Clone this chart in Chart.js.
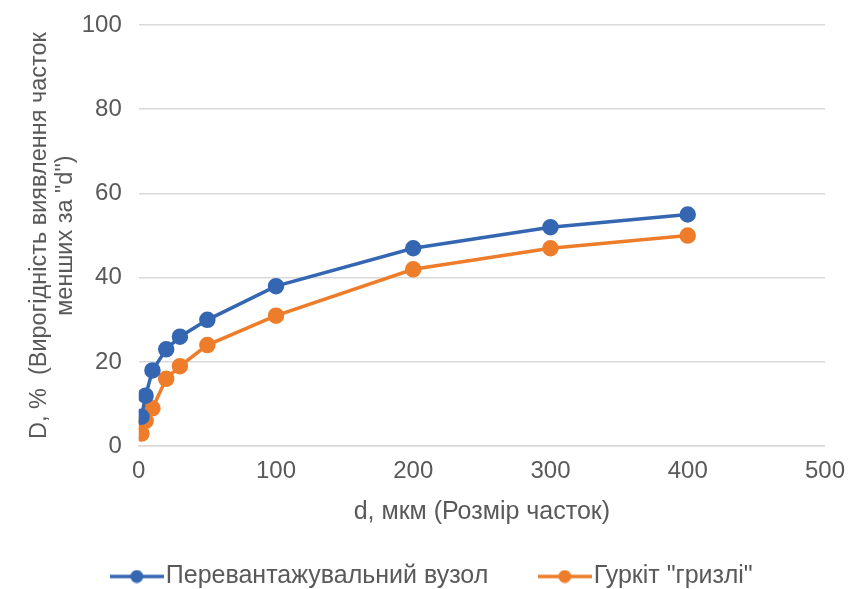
<!DOCTYPE html>
<html>
<head>
<meta charset="utf-8">
<script src="https://cdn.jsdelivr.net/npm/chart.js@4"></script>
<style>
  html, body { margin: 0; padding: 0; background: #fff; }
  #wrap { width: 856px; height: 589px; }
</style>
</head>
<body>
<div id="wrap"><canvas id="myChart" width="856" height="589"></canvas></div>
<script>
// particle size, mkm
const sizes = [2, 5, 10, 20, 30, 50, 100, 200, 300, 400];
// probability, %
const pereVuzol = [7, 12, 18, 23, 26, 30, 38, 47, 52, 55];
const grizli = [3, 6, 9, 16, 19, 24, 31, 42, 47, 50];
const seriesNames = ['Перевантажувальний вузол', 'Гуркіт "гризлі"'];
const xTicks = [0, 100, 200, 300, 400, 500];
const yTicks = [0, 20, 40, 60, 80, 100];

const blue = '#3566B2';
const orange = '#EE7D2B';
const grey = '#595959';
const font = 'Liberation Sans, Arial, sans-serif';

// legend marker: short line with dot, like excel
function legendIcon(color){
  const c = document.createElement('canvas');
  c.width = 54; c.height = 14;
  const g = c.getContext('2d');
  g.strokeStyle = color; g.lineWidth = 3.5;
  g.beginPath(); g.moveTo(0, 7); g.lineTo(54, 7); g.stroke();
  g.fillStyle = color;
  g.beginPath(); g.arc(27, 7, 6.5, 0, Math.PI * 2); g.fill();
  return c;
}

const toPts = ys => sizes.map((x, i) => ({x: x, y: ys[i]}));

new Chart(document.getElementById('myChart'), {
  type: 'scatter',
  data: {
    datasets: [
      {label: seriesNames[0], data: toPts(pereVuzol), borderColor: blue, backgroundColor: blue,
       showLine: true, borderWidth: 3.5, pointRadius: 6.5, pointHoverRadius: 6.5, pointStyle: 'circle'},
      {label: seriesNames[1], data: toPts(grizli), borderColor: orange, backgroundColor: orange,
       showLine: true, borderWidth: 3.5, pointRadius: 6.5, pointHoverRadius: 6.5, pointStyle: 'circle'}
    ]
  },
  options: {
    responsive: false,
    animation: false,
    layout: {padding: {left: 27, right: 10, top: 0, bottom: -10}},
    plugins: {
      tooltip: {enabled: false},
      legend: {
        position: 'bottom',
        labels: {
          usePointStyle: true,
          pointStyleWidth: 33,
          color: grey,
          font: {family: font, size: 25},
          padding: 60, // wide gap between the two items (also adds space above)
          generateLabels: chart => chart.data.datasets.map((d, i) => ({
            text: d.label, fillStyle: d.borderColor, strokeStyle: d.borderColor,
            fontColor: grey, pointStyle: legendIcon(d.borderColor), datasetIndex: i, lineWidth: 0
          }))
        }
      }
    },
    scales: {
      x: {
        type: 'linear', min: 0, max: 500,
        afterBuildTicks: a => { a.ticks = xTicks.map(v => ({value: v})); },
        grid: {display: false, drawTicks: false},
        border: {display: true, color: '#d9d9d9', width: 1.5},
        ticks: {color: grey, font: {family: font, size: 24}, padding: 11},
        title: {display: true, text: 'd, мкм (Розмір часток)', color: grey,
                font: {family: font, size: 25}, padding: {top: 0, bottom: -23}}
      },
      y: {
        min: 0, max: 100,
        afterBuildTicks: a => { a.ticks = yTicks.map(v => ({value: v})); },
        afterFit: s => { s.paddingTop = 25; },
        grid: {color: '#d9d9d9', lineWidth: 1.5, drawTicks: false},
        border: {display: false},
        ticks: {color: grey, font: {family: font, size: 24}, padding: 17},
        title: {display: true, text: ['D, %  (Вирогідність виявлення часток', 'менших за "d")'],
                color: grey, font: {family: font, size: 23.5, lineHeight: 1.1}, padding: {top: 0, bottom: -14}}
      }
    }
  }
});
</script>
</body>
</html>
